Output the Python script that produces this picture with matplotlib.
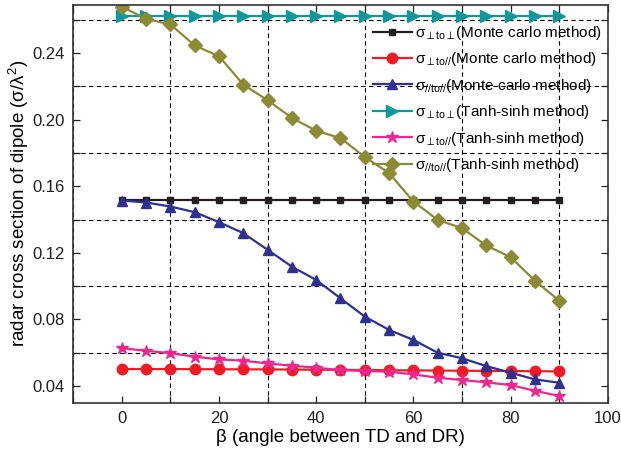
import numpy as np
import matplotlib.pyplot as plt
from matplotlib.ticker import MultipleLocator

plt.rcParams['font.family'] = ['Liberation Sans', 'DejaVu Sans']
plt.rcParams['mathtext.fontset'] = 'custom'
plt.rcParams['mathtext.rm'] = 'Liberation Sans'
plt.rcParams['mathtext.it'] = 'Liberation Sans:italic'
plt.rcParams['mathtext.fallback'] = 'cm'

# angle beta (deg)
beta = [0, 5, 10, 15, 20, 25, 30, 35, 40, 45, 50, 55, 60, 65, 70, 75, 80, 85, 90]

# Monte carlo method
mc_perp_perp = [0.152] * 19
mc_perp_par = [0.0502, 0.0502, 0.0502, 0.0501, 0.0501, 0.0500, 0.0500, 0.0499, 0.0498,
               0.0497, 0.0496, 0.0495, 0.0494, 0.0493, 0.0492, 0.0491, 0.0490, 0.0489, 0.0488]
mc_par_par = [0.1514, 0.1502, 0.1478, 0.1444, 0.1384, 0.1318, 0.1218, 0.1117, 0.1037,
              0.0927, 0.0817, 0.0737, 0.0677, 0.0600, 0.0567, 0.0520, 0.0480, 0.0440, 0.0420]

# Tanh-sinh method
ts_perp_perp = [0.262] * 19
ts_perp_par = [0.0627, 0.0612, 0.0597, 0.0576, 0.0560, 0.0552, 0.0536, 0.0522, 0.0510,
               0.0496, 0.0490, 0.0486, 0.0470, 0.0450, 0.0436, 0.0422, 0.0406, 0.0372, 0.0340]
ts_par_par = [0.2677, 0.2605, 0.2571, 0.2445, 0.2380, 0.2210, 0.2116, 0.2010, 0.1933,
              0.1889, 0.1775, 0.1679, 0.1508, 0.1398, 0.1348, 0.1244, 0.1174, 0.1033, 0.0913]

labels = [
    'σ$_{\\perp\\mathrm{to}\\perp}$(Monte carlo method)',
    'σ$_{\\perp\\mathrm{to//}}$(Monte carlo method)',
    'σ$_{\\mathrm{//to//}}$(Monte carlo method)',
    'σ$_{\\perp\\mathrm{to}\\perp}$(Tanh-sinh method)',
    'σ$_{\\perp\\mathrm{to//}}$(Tanh-sinh method)',
    'σ$_{\\mathrm{//to//}}$(Tanh-sinh method)',
]

fig = plt.figure(figsize=(6.21, 4.54), dpi=100)
ax = fig.add_axes([0.118, 0.113, 0.8606, 0.8767])

ax.plot(beta, mc_perp_perp, color='#231f20', marker='s', ms=4.5, lw=1.6, label=labels[0])
ax.plot(beta, mc_perp_par, color='#ed1c24', marker='o', ms=7.5, lw=1.6, label=labels[1])
ax.plot(beta, mc_par_par, color='#2e3192', marker='^', ms=6.5, lw=1.6, label=labels[2])
ax.plot(beta, ts_perp_perp, color='#0f979c', marker='>', ms=8, lw=1.6, label=labels[3])
ax.plot(beta, ts_perp_par, color='#ec288f', marker='*', ms=9, lw=1.6, label=labels[4])
ax.plot(beta, ts_par_par, color='#8c8a35', marker='D', ms=7.5, lw=1.6, label=labels[5])

ax.set_xlim(-10, 100)
ax.set_ylim(0.030, 0.269)
ax.xaxis.set_major_locator(MultipleLocator(20))
ax.xaxis.set_minor_locator(MultipleLocator(10))
ax.yaxis.set_major_locator(MultipleLocator(0.04))
ax.yaxis.set_minor_locator(MultipleLocator(0.02))
ax.yaxis.set_major_formatter(plt.FuncFormatter(lambda v, p: f'{v:.2f}'))

ax.tick_params(which='both', direction='in', top=True, right=True, length=5, width=0.9,
               labelsize=12, colors='#231f20')
ax.tick_params(which='major', pad=6)
ax.grid(True, which='minor', color='black', linestyle=(0, (4, 3)), lw=0.8)
ax.grid(False, which='major')
for s in ax.spines.values():
    s.set_linewidth(1.2)
    s.set_color('#333333')

ax.set_xlabel('β (angle between TD and DR)', fontsize=13.5, labelpad=2)
ax.set_ylabel('radar cross section of dipole (σ/λ$^2$)', fontsize=13.5, labelpad=1)

ax.legend(loc='upper left', bbox_to_anchor=(373 / 621, 1 - 24 / 454), bbox_transform=fig.transFigure,
          frameon=False, fontsize=11, handlelength=2.55, handletextpad=0.2,
          labelspacing=0.55, borderpad=0, borderaxespad=0)

fig.savefig('out.png', dpi=100)
